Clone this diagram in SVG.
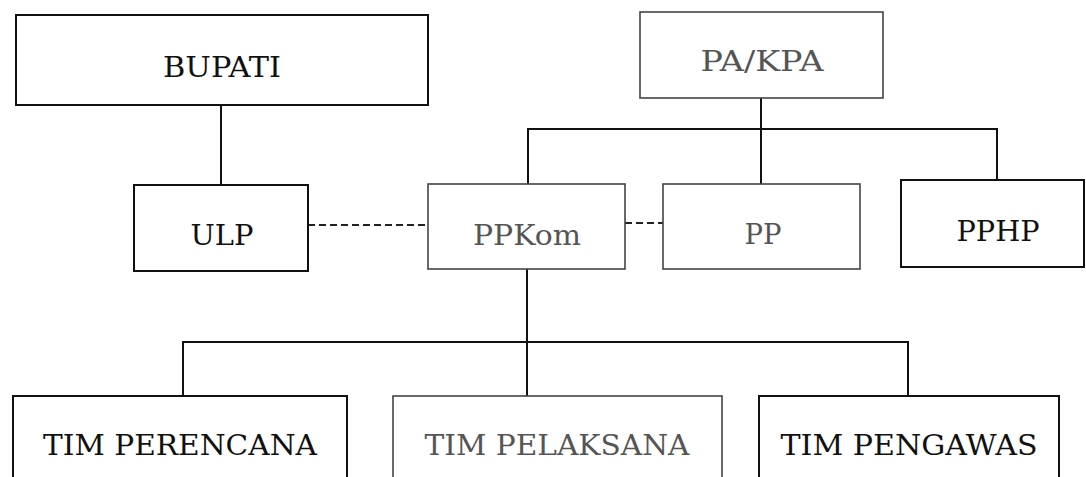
<svg xmlns="http://www.w3.org/2000/svg" width="1086" height="477" viewBox="0 0 1086 477">
<style>
.box{fill:#fff;stroke:#111;stroke-width:2}
.boxl{fill:#fff;stroke:#444;stroke-width:1.6}
.t{font-family:"DejaVu Serif","Liberation Serif",serif;font-size:28px;fill:#111;text-anchor:middle}
.tl{fill:#555}
.ln{stroke:#111;stroke-width:2;fill:none}
.dash{stroke:#222;stroke-width:2;stroke-dasharray:7 4;fill:none}
</style>
<rect width="1086" height="477" fill="#fff"/>
<g id="connectors">
<line class="ln" x1="221" y1="105" x2="221" y2="185"/>
<line class="ln" x1="761" y1="98" x2="761" y2="184"/>
<polyline class="ln" points="528,184 528,129 997,129 997,180"/>
<line class="ln" x1="527" y1="269" x2="527" y2="396"/>
<polyline class="ln" points="183,396 183,342 908,342 908,396"/>
<line class="dash" x1="308" y1="225" x2="428" y2="225"/>
<line class="dash" x1="625" y1="223" x2="663" y2="223"/>
</g>
<g id="bupati"><rect class="box" x="16" y="15" width="412" height="90"/><text class="t" x="222" y="77" textLength="118" lengthAdjust="spacingAndGlyphs">BUPATI</text></g>
<g id="pakpa"><rect class="boxl" x="640" y="12" width="243" height="86"/><text class="t tl" x="762" y="71" textLength="123" lengthAdjust="spacingAndGlyphs">PA/KPA</text></g>
<g id="ulp"><rect class="box" x="134" y="185" width="174" height="86"/><text class="t" x="222" y="245" textLength="63" lengthAdjust="spacingAndGlyphs">ULP</text></g>
<g id="ppkom"><rect class="boxl" x="428" y="184" width="197" height="85"/><text class="t tl" x="527" y="245" textLength="108" lengthAdjust="spacingAndGlyphs">PPKom</text></g>
<g id="pp"><rect class="boxl" x="663" y="184" width="197" height="85"/><text class="t tl" x="763" y="244" textLength="37" lengthAdjust="spacingAndGlyphs">PP</text></g>
<g id="pphp"><rect class="box" x="901" y="180" width="183" height="87"/><text class="t" x="998" y="241" textLength="83" lengthAdjust="spacingAndGlyphs">PPHP</text></g>
<g id="tim-perencana"><rect class="box" x="13" y="396" width="334" height="100"/><text class="t" x="180" y="455" textLength="274" lengthAdjust="spacingAndGlyphs">TIM PERENCANA</text></g>
<g id="tim-pelaksana"><rect class="boxl" x="393" y="396" width="329" height="100"/><text class="t tl" x="557" y="455" textLength="265" lengthAdjust="spacingAndGlyphs">TIM PELAKSANA</text></g>
<g id="tim-pengawas"><rect class="box" x="759" y="396" width="300" height="100"/><text class="t" x="909" y="455" textLength="257" lengthAdjust="spacingAndGlyphs">TIM PENGAWAS</text></g>
</svg>
